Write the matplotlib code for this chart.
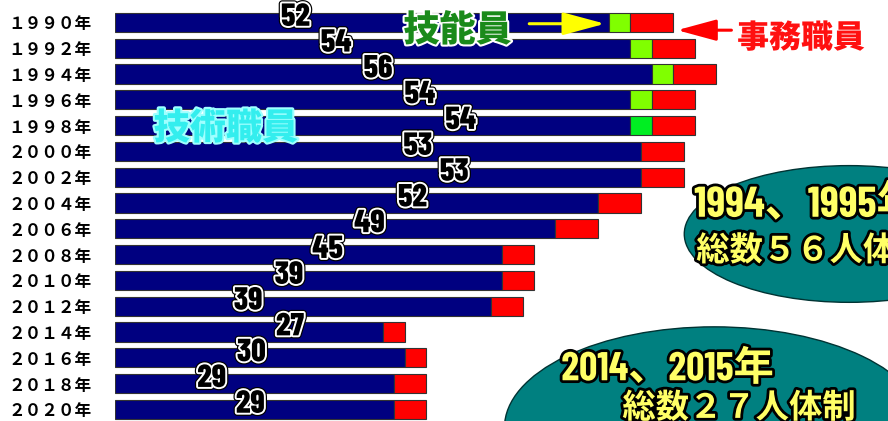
import numpy as np
import matplotlib.pyplot as plt
import matplotlib.patheffects as pe
from matplotlib.patches import Ellipse

plt.rcParams['font.family'] = ['Noto Sans CJK JP', 'DejaVu Sans']

# data
years = [1990, 1992, 1994, 1996, 1998, 2000, 2002, 2004,
         2006, 2008, 2010, 2012, 2014, 2016, 2018, 2020]
tech = [46, 48, 50, 48, 48, 49, 49, 45, 41, 36, 36, 35, 25, 27, 26, 26]    # 技術職員
skill = [2, 2, 2, 2, 2, 0, 0, 0, 0, 0, 0, 0, 0, 0, 0, 0]                  # 技能員
office = [4, 4, 4, 4, 4, 4, 4, 4, 4, 3, 3, 3, 2, 2, 3, 3]                 # 事務職員
totals = [52, 54, 56, 54, 54, 53, 53, 52, 49, 45, 39, 39, 27, 30, 29, 29]  # 表示されている総数
# where the total labels sit along the bars
label_x = [16.8, 20.6, 24.5, 28.4, 32.2, 28.2, 31.6, 27.7,
           23.7, 19.8, 16.2, 12.4, 16.3, 12.7, 9.0, 12.6]

fw = str.maketrans('0123456789', '０１２３４５６７８９')
ylabels = [(str(y) + '年').translate(fw) for y in years]

tech = np.array(tech)
skill = np.array(skill)
office = np.array(office)
pos = np.arange(len(years))

fig = plt.figure(figsize=(8.88, 4.21), dpi=100)
ax = fig.add_axes([115 / 888, 0, 1 - 115 / 888, 1])

green_cols = ['#80ff00'] * 4 + ['#00ee22'] + ['#80ff00'] * 11
h = 0.74
ax.barh(pos, tech, h, color='#000080', edgecolor='#333333', lw=0.8)
ax.barh(pos, skill, h, left=tech, color=green_cols, edgecolor='#333333', lw=0.8)
ax.barh(pos, office, h, left=tech + skill, color='#ff0000', edgecolor='#333333', lw=0.8)

ax.set_xlim(0, 72)
ax.set_ylim(15.45, -0.87)
ax.set_yticks(pos)
ax.set_yticklabels(ylabels, fontsize=12, fontweight='bold')
ax.tick_params(axis='y', length=0, pad=17)
ax.set_xticks([])
for s in ax.spines.values():
    s.set_visible(False)

cond = ['Barlow Condensed', 'Liberation Sans Narrow', 'DejaVu Sans']
num_fx = [pe.Stroke(linewidth=4.5, foreground='black'),
          pe.Stroke(linewidth=2.8, foreground='white'),
          pe.Normal()]
for i, t in enumerate(totals):
    ax.text(label_x[i], i - 0.2, str(t), ha='center', va='center',
            fontsize=23, fontweight='heavy', color='black',
            family=cond, path_effects=num_fx)

outline = [pe.Stroke(linewidth=3, foreground='white'), pe.Normal()]
ax.text((226 - 115) / 10.75, 4.1, '技術職員', ha='center', va='center', fontsize=26,
        fontweight='heavy', color='#33eeee',
        path_effects=[pe.Stroke(linewidth=3, foreground='#a0ffff'), pe.Normal()])
ax.text((458 - 115) / 10.75, 0.3, '技能員', ha='center', va='center', fontsize=26,
        fontweight='heavy', color='#1a8a1a', path_effects=outline)
ax.text((802 - 115) / 10.75, 0.6, '事務職員', ha='center', va='center', fontsize=23,
        fontweight='heavy', color='#ff1010', path_effects=outline)

# arrows
ax.annotate('', xy=(tech[0] - 0.1, 0.05), xytext=((527 - 115) / 10.75, 0.05),
            arrowprops=dict(arrowstyle='-|>,head_length=2.6,head_width=0.7',
                            color='#ffff00', lw=2.2))
ax.annotate('', xy=(tech[0] + skill[0] + office[0] + 0.1, 0.3), xytext=((735 - 115) / 10.75, 0.3),
            arrowprops=dict(arrowstyle='-|>,head_length=2.4,head_width=0.65',
                            color='#ff0000', lw=2.2))

# ellipses with notes
ax.add_patch(Ellipse(((850 - 115) / 10.75, 8.2), 330 / 10.75, 5.3,
                     facecolor='#008080', edgecolor='#003333', lw=1, clip_on=False))
ax.add_patch(Ellipse(((715 - 115) / 10.75, 15.7), 420 / 10.75, 7.8,
                     facecolor='#008080', edgecolor='#003333', lw=1, clip_on=False))

note_fx = [pe.Stroke(linewidth=4, foreground='black'), pe.Normal()]
note_font = ['Barlow Condensed', 'Liberation Sans Narrow', 'Noto Sans CJK JP']
ax.text((695 - 115) / 10.75, 7.05, '1994、1995年', ha='left', va='center', fontsize=31,
        fontweight='bold', color='#ffff66', family=note_font, path_effects=note_fx)
ax.text((697 - 115) / 10.75, 8.85, '総数５６人体制', ha='left', va='center', fontsize=24,
        fontweight='bold', color='#ffff66', family=note_font, path_effects=note_fx)
ax.text((562 - 115) / 10.75, 13.4, '2014、2015年', ha='left', va='center', fontsize=29,
        fontweight='bold', color='#ffff66', family=note_font, path_effects=note_fx)
ax.text((623 - 115) / 10.75, 14.95, '総数２７人体制', ha='left', va='center', fontsize=24,
        fontweight='bold', color='#ffff66', family=note_font, path_effects=note_fx)

fig.savefig('out.png', dpi=100, facecolor='white')
